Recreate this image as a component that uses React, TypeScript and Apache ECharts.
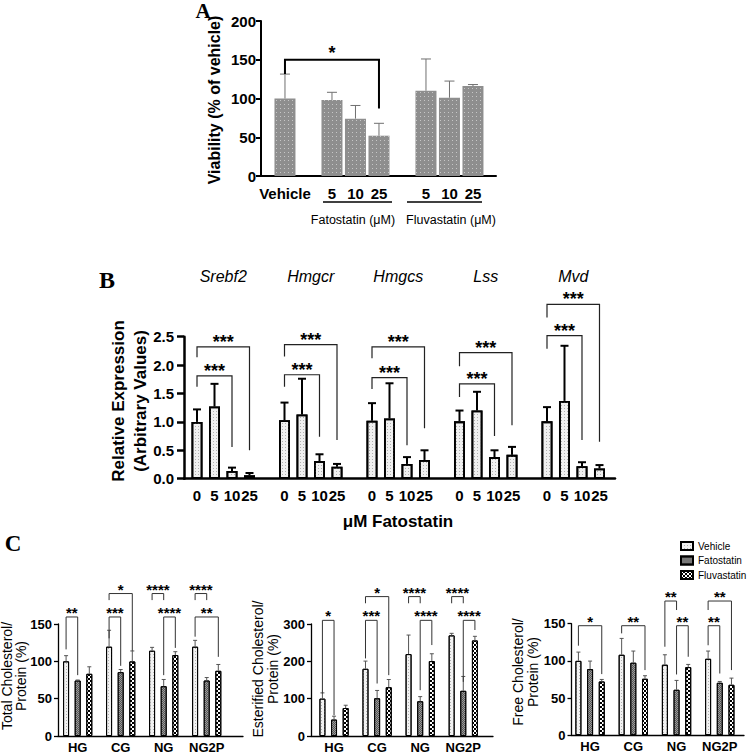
import React, { useEffect, useRef } from "react";
import * as echarts from "echarts";

const FONT = "'Liberation Sans', Arial, Helvetica, sans-serif";
const SERIF = "'Liberation Serif', 'Times New Roman', serif";

// ---------- Panel A : viability ----------
const aLabels = ["Vehicle", "5", "10", "25", "5", "10", "25"];
const aSlots = [0, 2, 3, 4, 6, 7, 8];
const aViability = [100, 98, 74, 52, 110, 101, 116];
const aViabilityErr = [31.5, 10, 17, 16, 41, 21.5, 2];
const aBrackets = [{ x1: 0, x2: 4, top: 150, yL: 131.5, yR: 87, label: "*" }];

// ---------- Panel B : relative expression ----------
const bGenes = ["Srebf2", "Hmgcr", "Hmgcs", "Lss", "Mvd"];
const bDoses = ["0", "5", "10", "25"];
const bMeans = [
  [1.0, 1.27, 0.135, 0.06],
  [1.03, 1.13, 0.31, 0.21],
  [1.02, 1.06, 0.26, 0.33],
  [1.01, 1.2, 0.38, 0.42],
  [1.01, 1.37, 0.22, 0.18],
];
const bErrs = [
  [0.22, 0.4, 0.06, 0.04],
  [0.31, 0.63, 0.12, 0.05],
  [0.31, 0.62, 0.12, 0.17],
  [0.19, 0.33, 0.12, 0.14],
  [0.25, 0.97, 0.07, 0.06],
];
// [top, left end, right end] for 0 vs 10 and 0 vs 25 comparisons
const bInner = [
  [1.81, 1.62, 0.56],
  [1.83, 1.62, 0.74],
  [1.78, 1.58, 0.59],
  [1.67, 1.44, 0.75],
  [2.52, 2.29, 0.68],
];
const bOuter = [
  [2.32, 2.14, 0.5],
  [2.36, 2.15, 0.68],
  [2.32, 2.12, 0.89],
  [2.22, 1.98, 0.94],
  [3.07, 2.84, 0.65],
];

// ---------- Panel C : cholesterol ----------
const cGroups = ["HG", "CG", "NG", "NG2P"];
const cTreatments = ["Vehicle", "Fatostatin", "Fluvastatin"];

const totalVehicle = [100, 119.6, 114.2, 119.6];
const totalVehicleErr = [7.6, 22, 4.5, 8.5];
const totalFatostatin = [74.3, 85.5, 66.7, 74.3];
const totalFatostatinErr = [0.7, 3.5, 9, 4];
const totalFluvastatin = [83.3, 99.9, 108.4, 87.3];
const totalFluvastatinErr = [9.4, 14, 4.5, 8.5];

const esterVehicle = [100, 180, 219.4, 269.5];
const esterVehicleErr = [15.5, 20.6, 51, 5.5];
const esterFatostatin = [44, 101, 93, 121];
const esterFatostatinErr = [9, 21, 12.5, 38.5];
const esterFluvastatin = [75, 130.7, 200.6, 256];
const esterFluvastatinErr = [7.4, 20.6, 19.7, 11];

const freeVehicle = [100, 108.2, 94.8, 102.8];
const freeVehicleErr = [11.8, 22, 13.4, 10.4];
const freeFatostatin = [88.9, 97.5, 61.1, 70.5];
const freeFatostatinErr = [10.8, 15.7, 12.6, 1.8];
const freeFluvastatin = [72.3, 75.9, 91.6, 67.8];
const freeFluvastatinErr = [2.7, 4.1, 3.6, 9];

// [group, treatment1, treatment2, top, left end, right end, label]
const totalBrackets: any[] = [
  [0, 0, 1, 159.4, 116, 81.5, "**"],
  [1, 0, 1, 159.4, 130.8, 94, "***"],
  [1, 0, 2, 190.8, 182, 114, "*"],
  [2, 0, 1, 190.8, 182, 182, "****"],
  [2, 1, 2, 159.4, 81.5, 118, "****"],
  [3, 0, 1, 190.8, 182, 182, "****"],
  [3, 0, 2, 159.4, 133, 106, "**"],
];
const esterBrackets: any[] = [
  [0, 0, 1, 309.8, 113.7, 55.5, "*"],
  [1, 0, 1, 309.8, 207.8, 140.6, "***"],
  [1, 0, 2, 373.4, 355.5, 163, "*"],
  [2, 0, 1, 373.4, 355.5, 355.5, "****"],
  [2, 1, 2, 309.8, 122.7, 243.6, "****"],
  [3, 0, 1, 373.4, 355.5, 355.5, "****"],
  [3, 1, 2, 309.8, 145, 283.9, "****"],
];
const freeBrackets: any[] = [
  [0, 0, 2, 147.3, 120.4, 82.2, "*"],
  [1, 0, 2, 147.3, 137, 87.6, "**"],
  [2, 0, 1, 180.5, 119, 168.4, "**"],
  [2, 1, 2, 147.3, 81.7, 105.5, "**"],
  [3, 0, 2, 180.5, 168.4, 87.6, "**"],
  [3, 0, 1, 147.3, 121, 83, "**"],
];

// ---------- layout ----------
const C_OFF = 0.27;
const cx = (g: number, t: number) => g + (t - 1) * C_OFF;
const bx = (g: number, i: number) => g * 5 + i;

const grids = [
  { left: 261, top: 21, width: 235, height: 155 },
  { left: 184, top: 336.7, width: 431, height: 142 },
  { left: 58, top: 624, width: 185, height: 112 },
  { left: 311, top: 624, width: 182, height: 112 },
  { left: 571.5, top: 623.7, width: 172.5, height: 111.5 },
];
const xRanges = [
  [-1.02, 8.98],
  [-0.743, 23.886],
  [-0.458, 3.844],
  [-0.535, 3.69],
  [-0.43, 3.56],
];

const decalA = { symbol: "rect", symbolSize: 1, dashArrayX: [1, 3], dashArrayY: [1, 3], color: "#c6c6c6" };
const decalLight = { symbol: "rect", symbolSize: 1, dashArrayX: [1, 2], dashArrayY: [1, 2], color: "#b0b0b0" };
const decalFato = { symbol: "rect", symbolSize: 1, dashArrayX: [[1, 1], [0, 1, 1, 0]], dashArrayY: [1, 0], color: "#555" };
const decalFluva = { symbol: "rect", symbolSize: 1, dashArrayX: [[2, 2], [0, 2, 2, 0]], dashArrayY: [2, 0], color: "#000" };

const cStyles = [
  { color: "#f2f2f2", borderColor: "#000", borderWidth: 1, decal: decalLight },
  { color: "#9a9a9a", borderColor: "#000", borderWidth: 1, decal: decalFato },
  { color: "#ffffff", borderColor: "#000", borderWidth: 1, decal: decalFluva },
];

function errSeries(idx: number, pts: number[][], cap: number, color: string, lw: number) {
  return {
    type: "custom",
    xAxisIndex: idx,
    yAxisIndex: idx,
    data: pts,
    clip: false,
    silent: true,
    z: 5,
    renderItem: (_p: any, api: any) => {
      const x = api.value(0);
      const m = api.value(1);
      const e = api.value(2);
      const p0 = api.coord([x, m]);
      const p1 = api.coord([x, m + e]);
      return {
        type: "group",
        children: [
          { type: "line", shape: { x1: p0[0], y1: p0[1], x2: p1[0], y2: p1[1] }, style: { stroke: color, lineWidth: lw } },
          { type: "line", shape: { x1: p1[0] - cap / 2, y1: p1[1], x2: p1[0] + cap / 2, y2: p1[1] }, style: { stroke: color, lineWidth: lw } },
        ],
      };
    },
  };
}

function bracketSeries(idx: number, list: any[], color: string, lw: number, font: string, dy: number) {
  return {
    type: "custom",
    xAxisIndex: idx,
    yAxisIndex: idx,
    data: list.map((b) => [b.x1, b.top]),
    clip: false,
    silent: true,
    z: 6,
    renderItem: (p: any, api: any) => {
      const b = list[p.dataIndex];
      const pL = api.coord([b.x1, b.top]);
      const pR = api.coord([b.x2, b.top]);
      const pLe = api.coord([b.x1, b.yL]);
      const pRe = api.coord([b.x2, b.yR]);
      return {
        type: "group",
        children: [
          {
            type: "polyline",
            shape: { points: [pLe, pL, pR, pRe] },
            style: { stroke: color, lineWidth: lw, fill: "none" },
          },
          {
            type: "text",
            style: {
              text: b.label,
              x: (pL[0] + pR[0]) / 2,
              y: pL[1] - dy,
              font,
              fill: "#000",
              textAlign: "center",
              textVerticalAlign: "middle",
            },
          },
        ],
      };
    },
  };
}

function xAxisCfg(i: number, customValues: number[], formatter: (v: number) => string, lw: number, fontSize: number, margin: number) {
  return {
    type: "value",
    gridIndex: i,
    min: xRanges[i][0],
    max: xRanges[i][1],
    splitLine: { show: false },
    axisTick: { show: false },
    axisLine: { show: true, onZero: false, lineStyle: { color: "#000", width: lw } },
    axisLabel: {
      customValues,
      formatter,
      color: "#000",
      fontFamily: FONT,
      fontWeight: "bold",
      fontSize,
      margin,
      hideOverlap: false,
      showMinLabel: true,
      showMaxLabel: true,
    },
  };
}

function yAxisCfg(i: number, max: number, interval: number, lw: number, tickLen: number, fontSize: number, margin: number, formatter?: any) {
  return {
    type: "value",
    gridIndex: i,
    min: 0,
    max,
    interval,
    splitLine: { show: false },
    axisLine: { show: true, onZero: false, lineStyle: { color: "#000", width: lw } },
    axisTick: { show: true, length: tickLen, lineStyle: { color: "#000", width: lw } },
    axisLabel: { color: "#000", fontFamily: FONT, fontWeight: "bold", fontSize, margin, formatter },
  };
}

function cPanel(idx: number, vals: number[][], errs: number[][], brackets: any[]) {
  const out: any[] = [];
  vals.forEach((v, t) => {
    out.push({
      type: "bar",
      name: cTreatments[t],
      xAxisIndex: idx,
      yAxisIndex: idx,
      barWidth: 6,
      barGap: "-100%",
      silent: true,
      data: v.map((y, g) => [cx(g, t), y]),
      itemStyle: cStyles[t],
    });
  });
  const pts: number[][] = [];
  vals.forEach((v, t) => v.forEach((y, g) => pts.push([cx(g, t), y, errs[t][g]])));
  out.push(errSeries(idx, pts, 4, "#555", 1));
  out.push(
    bracketSeries(
      idx,
      brackets.map((b) => ({ x1: cx(b[0], b[1]), x2: cx(b[0], b[2]), top: b[3], yL: b[4], yR: b[5], label: b[6] })),
      "#333",
      1,
      `bold 15px ${FONT}`,
      4.5
    )
  );
  return out;
}

function bPixelX(v: number) {
  const g = grids[1];
  return g.left + ((v - xRanges[1][0]) / (xRanges[1][1] - xRanges[1][0])) * g.width;
}

function buildOption() {
  const series: any[] = [];

  // Panel A
  series.push({
    type: "bar",
    xAxisIndex: 0,
    yAxisIndex: 0,
    barWidth: 21,
    silent: true,
    data: aSlots.map((s, i) => [s, aViability[i]]),
    itemStyle: { color: "#8e8e8e", decal: decalA },
  });
  series.push(errSeries(0, aSlots.map((s, i) => [s, aViability[i], aViabilityErr[i]]), 10, "#707070", 1));
  series.push(bracketSeries(0, aBrackets, "#000", 2, `bold 18px ${FONT}`, 7));

  // Panel B
  const bData: number[][] = [];
  const bErrPts: number[][] = [];
  bMeans.forEach((row, g) =>
    row.forEach((m, i) => {
      bData.push([bx(g, i), m]);
      bErrPts.push([bx(g, i), m, bErrs[g][i]]);
    })
  );
  series.push({
    type: "bar",
    xAxisIndex: 1,
    yAxisIndex: 1,
    barWidth: 11,
    silent: true,
    data: bData,
    itemStyle: { color: "#f0f0f0", borderColor: "#000", borderWidth: 1.8, decal: decalLight },
  });
  series.push(errSeries(1, bErrPts, 8, "#000", 2));
  const bBr: any[] = [];
  bGenes.forEach((_, g) => {
    bBr.push({ x1: bx(g, 0), x2: bx(g, 2), top: bInner[g][0], yL: bInner[g][1], yR: bInner[g][2], label: "***" });
    bBr.push({ x1: bx(g, 0), x2: bx(g, 3), top: bOuter[g][0], yL: bOuter[g][1], yR: bOuter[g][2], label: "***" });
  });
  series.push(bracketSeries(1, bBr, "#222", 1.2, `bold 18px ${FONT}`, 5));

  // Panel C
  series.push(
    ...cPanel(
      2,
      [totalVehicle, totalFatostatin, totalFluvastatin],
      [totalVehicleErr, totalFatostatinErr, totalFluvastatinErr],
      totalBrackets
    )
  );
  series.push(
    ...cPanel(
      3,
      [esterVehicle, esterFatostatin, esterFluvastatin],
      [esterVehicleErr, esterFatostatinErr, esterFluvastatinErr],
      esterBrackets
    )
  );
  series.push(
    ...cPanel(
      4,
      [freeVehicle, freeFatostatin, freeFluvastatin],
      [freeVehicleErr, freeFatostatinErr, freeFluvastatinErr],
      freeBrackets
    )
  );

  const bValues: number[] = [];
  bGenes.forEach((_, g) => bDoses.forEach((__, i) => bValues.push(bx(g, i))));

  const graphic: any[] = [
    { type: "text", x: 203, y: 11, style: { text: "A", font: `bold 21px ${SERIF}`, fill: "#000", textAlign: "center", textVerticalAlign: "middle" } },
    { type: "text", x: 107, y: 280, style: { text: "B", font: `bold 24px ${SERIF}`, fill: "#000", textAlign: "center", textVerticalAlign: "middle" } },
    { type: "text", x: 13, y: 543, style: { text: "C", font: `bold 23px ${SERIF}`, fill: "#000", textAlign: "center", textVerticalAlign: "middle" } },
    {
      type: "text", x: 214, y: 100, rotation: Math.PI / 2,
      style: { text: "Viability (% of vehicle)", font: `bold 16px ${FONT}`, fill: "#000", textAlign: "center", textVerticalAlign: "middle" },
    },
    { type: "line", shape: { x1: 323, y1: 202, x2: 392, y2: 202 }, style: { stroke: "#000", lineWidth: 1.5 } },
    { type: "line", shape: { x1: 407, y1: 202, x2: 482, y2: 202 }, style: { stroke: "#000", lineWidth: 1.5 } },
    { type: "text", x: 353, y: 220, style: { text: "Fatostatin (\u03bcM)", font: `12.5px ${FONT}`, fill: "#000", textAlign: "center", textVerticalAlign: "middle" } },
    { type: "text", x: 451, y: 220, style: { text: "Fluvastatin (\u03bcM)", font: `12.5px ${FONT}`, fill: "#000", textAlign: "center", textVerticalAlign: "middle" } },
    {
      type: "text", x: 129, y: 401, rotation: Math.PI / 2,
      style: { text: "Relative Expression\n(Arbitrary Values)", font: `bold 17px ${FONT}`, lineHeight: 22, fill: "#000", textAlign: "center", textVerticalAlign: "middle" },
    },
    { type: "text", x: 398, y: 521, style: { text: "\u03bcM Fatostatin", font: `bold 17px ${FONT}`, fill: "#000", textAlign: "center", textVerticalAlign: "middle" } },
    {
      type: "text", x: 14, y: 676, rotation: Math.PI / 2,
      style: { text: "Total Cholesterol/\nProtein (%)", font: `14px ${FONT}`, lineHeight: 14, fill: "#000", textAlign: "center", textVerticalAlign: "middle" },
    },
    {
      type: "text", x: 265.5, y: 669, rotation: Math.PI / 2,
      style: { text: "Esterified Cholesterol/\nProtein (%)", font: `14px ${FONT}`, lineHeight: 15, fill: "#000", textAlign: "center", textVerticalAlign: "middle" },
    },
    {
      type: "text", x: 525.5, y: 672, rotation: Math.PI / 2,
      style: { text: "Free Cholesterol/\nProtein (%)", font: `14px ${FONT}`, lineHeight: 15, fill: "#000", textAlign: "center", textVerticalAlign: "middle" },
    },
  ];
  bGenes.forEach((gene, g) => {
    graphic.push({
      type: "text",
      x: bPixelX(bx(g, 1.5)),
      y: 276,
      style: { text: gene, font: `italic 16px ${FONT}`, fill: "#000", textAlign: "center", textVerticalAlign: "middle" },
    });
  });

  return {
    animation: false,
    backgroundColor: "#fff",
    grid: grids.map((g) => ({ ...g, containLabel: false, outerBoundsMode: "none" })),
    xAxis: [
      xAxisCfg(0, aSlots, (v) => aLabels[aSlots.indexOf(Math.round(v))] ?? "", 2, 15, 10),
      xAxisCfg(1, bValues, (v) => bDoses[Math.round(v) % 5] ?? "", 2.5, 15, 9),
      xAxisCfg(2, [0, 1, 2, 3], (v) => cGroups[Math.round(v)] ?? "", 1.3, 13, 5),
      xAxisCfg(3, [0, 1, 2, 3], (v) => cGroups[Math.round(v)] ?? "", 1.3, 13, 5),
      xAxisCfg(4, [0, 1, 2, 3], (v) => cGroups[Math.round(v)] ?? "", 1.3, 13, 5),
    ],
    yAxis: [
      yAxisCfg(0, 200, 50, 2, 5, 15, 5),
      yAxisCfg(1, 2.5, 0.5, 2.5, 7, 15, 10, (v: number) => v.toFixed(1)),
      yAxisCfg(2, 150, 50, 1.3, 4, 13, 6),
      yAxisCfg(3, 300, 100, 1.3, 4, 13, 6),
      yAxisCfg(4, 150, 50, 1.3, 4, 13, 6),
    ],
    legend: {
      show: true,
      orient: "vertical",
      left: 680,
      top: 541,
      padding: 0,
      itemGap: 4.5,
      itemWidth: 12,
      itemHeight: 8,
      icon: "rect",
      selectedMode: false,
      data: cTreatments,
      textStyle: { fontFamily: FONT, fontSize: 10, color: "#000", padding: [0, 0, 0, 0] },
    },
    graphic,
    series,
  };
}

export default function App() {
  const ref = useRef<HTMLDivElement>(null);
  useEffect(() => {
    if (!ref.current) return;
    const chart = echarts.init(ref.current, null, { renderer: "svg" });
    chart.setOption(buildOption() as any);
    return () => chart.dispose();
  }, []);
  return (
    <div
      ref={ref}
      style={{ position: "fixed", left: 0, top: 0, width: 749, height: 754, background: "#fff" }}
    />
  );
}
